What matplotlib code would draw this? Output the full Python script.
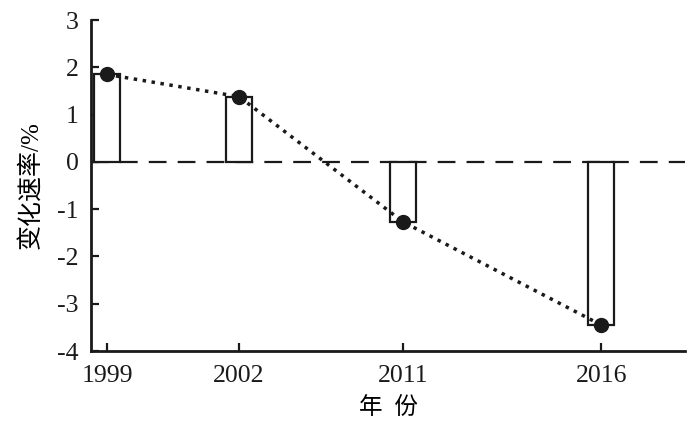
import matplotlib.pyplot as plt

# --- data ---
years = ["1999", "2002", "2011", "2016"]
rates = [1.85, 1.38, -1.27, -3.45]

# x positions of the year slots (not evenly spaced in the original)
x_pos = [16, 148, 312, 510]
bar_width = 26

plt.rcParams["font.family"] = ["Liberation Serif", "Noto Sans CJK SC"]

fig = plt.figure(figsize=(7, 4.46), dpi=100)
ax = fig.add_axes([0.13, 0.213, 0.849, 0.742])

# bars
ax.bar(x_pos, rates, width=bar_width, color="white", edgecolor="#1a1a1a",
       linewidth=1.6, zorder=2)

# zero reference line
ax.axhline(0, color="#1a1a1a", linewidth=1.6, linestyle=(0, (8, 5)), zorder=1)

# dotted trend line with dots
ax.plot(x_pos, rates, color="#1a1a1a", linewidth=2.5, linestyle=(0, (1, 1.6)),
        zorder=3)
ax.plot(x_pos, rates, "o", color="#1a1a1a", markersize=10, zorder=4)

# axes styling
ax.set_xlim(0, 594)
ax.set_ylim(-4, 3)
ax.set_xticks(x_pos)
ax.set_xticklabels(years)
ax.set_yticks(range(-4, 4))
ax.set_yticklabels([str(v) for v in range(-4, 4)])
ax.tick_params(direction="in", length=6, width=1.6, labelsize=18.5, pad=10,
               colors="#1a1a1a")
ax.tick_params(axis="y", pad=9)
for side in ["top", "right"]:
    ax.spines[side].set_visible(False)
for side in ["left", "bottom"]:
    ax.spines[side].set_linewidth(2)
    ax.spines[side].set_color("#1a1a1a")

ax.set_xlabel("年  份", fontsize=17, labelpad=7)
ax.set_ylabel("变化速率/%", fontsize=18, labelpad=10)

plt.savefig("out.png", dpi=100)
